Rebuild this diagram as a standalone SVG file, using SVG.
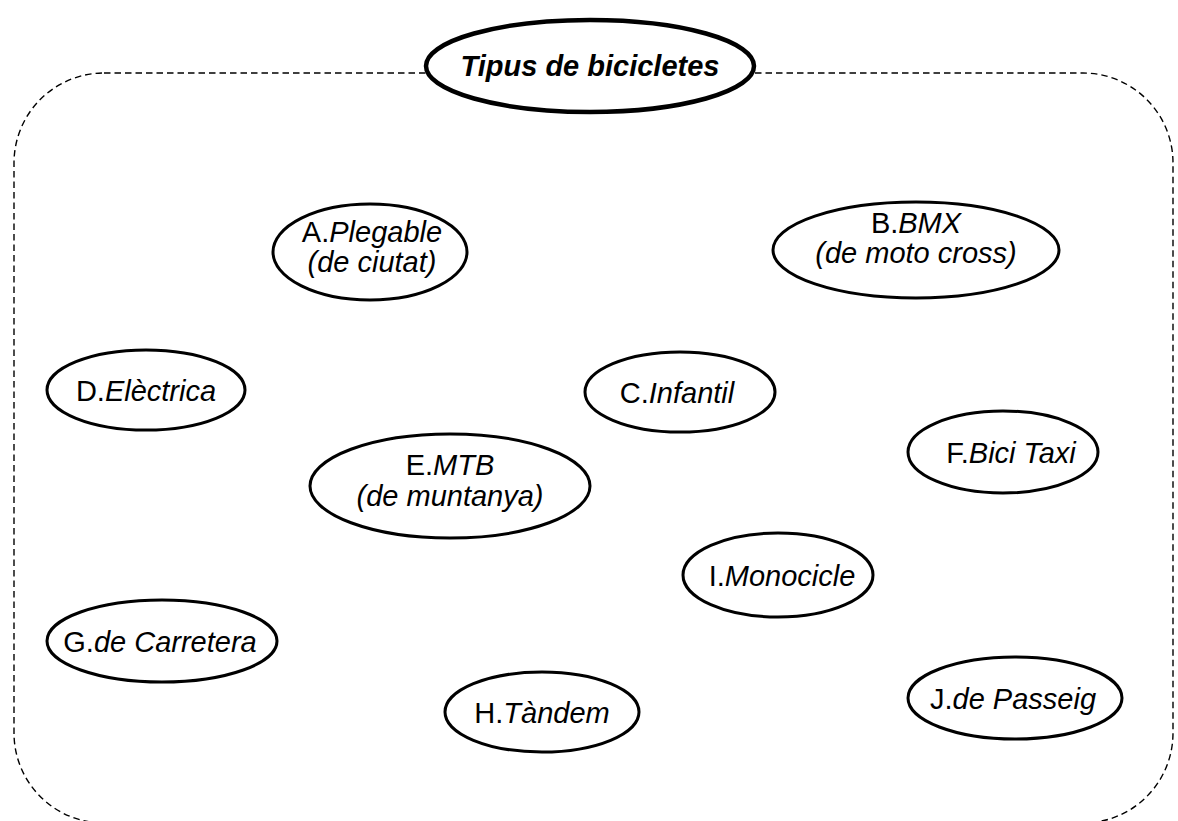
<svg xmlns="http://www.w3.org/2000/svg" width="1178" height="821" viewBox="0 0 1178 821">
<style>
.frame{fill:none;stroke:#000;stroke-width:1.4;stroke-dasharray:6.5 4}
.node{fill:#fff;stroke:#000;stroke-width:3}
.title{fill:#fff;stroke:#000;stroke-width:4.5}
text{font-family:"Liberation Sans",Arial,sans-serif;font-size:29px;fill:#000;text-anchor:middle}
.i{font-style:italic}
.tt{font-weight:bold;font-style:italic}
</style>
<rect width="1178" height="821" fill="#fff"/>
<g id="connectors">
<rect class="frame" x="14" y="73" width="1159" height="750" rx="90" ry="90"/>
</g>
<g id="title">
<ellipse class="title" cx="590" cy="66" rx="164" ry="46"/>
<text class="tt" x="590" y="76">Tipus de bicicletes</text>
</g>
<g id="A">
<ellipse class="node" cx="370" cy="252" rx="97" ry="48"/>
<text x="372" y="242">A.<tspan class="i">Plegable</tspan></text>
<text class="i" x="372" y="272">(de ciutat)</text>
</g>
<g id="B">
<ellipse class="node" cx="916" cy="250" rx="143" ry="48"/>
<text x="916" y="233">B.<tspan class="i">BMX</tspan></text>
<text class="i" x="916" y="263">(de moto cross)</text>
</g>
<g id="C">
<ellipse class="node" cx="680" cy="392" rx="95" ry="40"/>
<text x="677" y="402.5">C.<tspan class="i">Infantil</tspan></text>
</g>
<g id="D">
<ellipse class="node" cx="146" cy="390" rx="99" ry="40"/>
<text x="146" y="400.5">D.<tspan class="i">Elèctrica</tspan></text>
</g>
<g id="E">
<ellipse class="node" cx="450" cy="486" rx="140" ry="52"/>
<text x="450" y="475">E.<tspan class="i">MTB</tspan></text>
<text class="i" x="450" y="506">(de muntanya)</text>
</g>
<g id="F">
<ellipse class="node" cx="1003" cy="452" rx="95" ry="41"/>
<text x="1011" y="462.5">F.<tspan class="i">Bici Taxi</tspan></text>
</g>
<g id="G">
<ellipse class="node" cx="162" cy="641" rx="115" ry="41"/>
<text x="160" y="651.5">G.<tspan class="i">de Carretera</tspan></text>
</g>
<g id="H">
<ellipse class="node" cx="542" cy="712" rx="97" ry="40"/>
<text x="542" y="722.5">H.<tspan class="i">Tàndem</tspan></text>
</g>
<g id="I">
<ellipse class="node" cx="778" cy="575" rx="95" ry="42"/>
<text x="782" y="585.5">I.<tspan class="i">Monocicle</tspan></text>
</g>
<g id="J">
<ellipse class="node" cx="1015" cy="698" rx="107" ry="41"/>
<text x="1013" y="708.5">J.<tspan class="i">de Passeig</tspan></text>
</g>
</svg>
